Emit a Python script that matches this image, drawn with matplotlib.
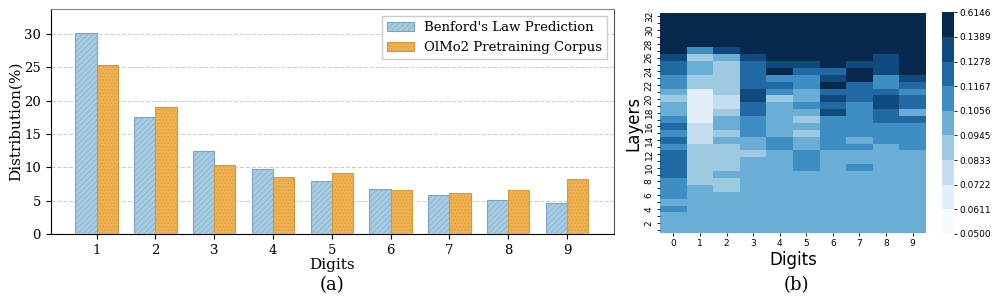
import numpy as np
import matplotlib
matplotlib.use("Agg")
import matplotlib.pyplot as plt
from matplotlib.colors import BoundaryNorm, ListedColormap

# ---- data (a): first-digit distribution ----
digits = [1, 2, 3, 4, 5, 6, 7, 8, 9]
benford = [30.1, 17.6, 12.5, 9.7, 7.9, 6.7, 5.8, 5.1, 4.6]
olmo2 = [25.4, 19.0, 10.3, 8.5, 9.2, 6.6, 6.1, 6.6, 8.2]

# ---- data (b): colour bin per layer (rows: layer 32 down to 1) x digit 0-9 ----
bounds = [0.0500, 0.0611, 0.0722, 0.0833, 0.0945, 0.1056, 0.1167, 0.1278, 0.1389, 0.6146]
heat_digits = list(range(10))
layer_bins = [
    "8888888888",  # 32
    "8888888888",  # 31
    "8888888888",  # 30
    "8888888888",  # 29
    "8888888888",  # 28
    "8578888888",  # 27
    "7347888878",  # 26
    "6436778778",  # 25
    "6436866878",  # 24
    "5336557857",  # 23
    "5336658656",  # 22
    "4137546665",  # 21
    "3127347676",  # 20
    "4126456576",  # 19
    "4136447564",  # 18
    "5145435566",  # 17
    "6245445555",  # 16
    "5235435555",  # 15
    "6244545455",  # 14
    "5334545545",  # 13
    "6333454444",  # 12
    "6334454444",  # 11
    "6334454544",  # 10
    "6344444444",  # 9
    "5334444444",  # 8
    "5434444444",  # 7
    "5444444444",  # 6
    "4444444444",  # 5
    "5444444444",  # 4
    "4444444444",  # 3
    "4444444444",  # 2
    "4444444444",  # 1
]
bin_colors = ['#f7fbff', '#e2eef8', '#c6dcef', '#9ecae1', '#6aaed6',
              '#3e8ec4', '#2169a3', '#0e4a7c', '#07284d']

plt.rcParams['hatch.linewidth'] = 0.4
fig = plt.figure(figsize=(9.96, 3.01), dpi=100)

# ---------------- (a) bar chart ----------------
ax = fig.add_axes([0.0509, 0.2226, 0.5656, 0.746])
x = np.array(digits)
w = 0.36
ax.bar(x - w / 2, benford, w, color='#a7cde2', edgecolor='#7da3c6', hatch='//////',
       linewidth=0.8, label="Benford's Law Prediction", zorder=3)
ax.bar(x + w / 2, olmo2, w, color='#efb04f', edgecolor='#d49a3c', hatch='.....',
       linewidth=0.8, label='OlMo2 Pretraining Corpus', zorder=3)
ax.set_xlim(0.22, 9.8)
ax.set_ylim(0, 33.7)
ax.set_xticks(digits)
ax.set_yticks([0, 5, 10, 15, 20, 25, 30])
ax.tick_params(labelsize=9.5)
for lab in ax.get_xticklabels() + ax.get_yticklabels():
    lab.set_family('DejaVu Serif')
ax.yaxis.grid(True, linestyle='--', color='#d0d0d0', linewidth=0.8, zorder=0)
ax.set_xlabel('Digits', fontsize=11, family='DejaVu Serif', labelpad=1)
ax.set_ylabel('Distribution(%)', fontsize=11, family='DejaVu Serif', labelpad=1)
ax.spines['top'].set_color('#888888')
ax.spines['right'].set_color('#555555')
leg = ax.legend(loc='upper right', prop={'family': 'DejaVu Serif', 'size': 9.5},
                fancybox=False, framealpha=1, edgecolor='#cccccc')
fig.text(0.333, 1 - 285 / 301, '(a)', ha='center', va='center', fontsize=13,
         family='DejaVu Serif')

# ---------------- (b) heatmap ----------------
hm = np.array([[int(c) for c in row] for row in layer_bins])[::-1]  # layer 1 first
mids = [(bounds[i] + bounds[i + 1]) / 2 for i in range(len(bounds) - 1)]
values = np.array(mids)[hm]
layers = np.arange(1, 33)

cmap = ListedColormap(bin_colors)
norm = BoundaryNorm(bounds, cmap.N)
hx = fig.add_axes([0.6627, 0.2259, 0.267, 0.731])
mesh = hx.pcolormesh(np.arange(-0.5, 10), np.arange(0.5, 33), values, cmap=cmap, norm=norm)
hx.set_xlim(-0.5, 9.5)
hx.set_ylim(0.5, 32.5)
hx.set_xticks(heat_digits)
hx.set_yticks(layers)
hx.set_yticklabels([str(l) if l % 2 == 0 else '' for l in layers], rotation=90, va='center')
hx.tick_params(labelsize=6.5, length=2.5, width=0.6, pad=2)
for s in hx.spines.values():
    s.set_visible(False)
hx.set_xlabel('Digits', fontsize=12, labelpad=2)
hx.set_ylabel('Layers', fontsize=12, labelpad=1.5)

cx = fig.add_axes([0.9458, 0.2226, 0.012, 0.7365])
cb = fig.colorbar(mesh, cax=cx, ticks=bounds)
cb.ax.set_yticklabels(['%.4f' % b for b in bounds])
cb.ax.tick_params(labelsize=6.5, length=2.5, width=0.6, pad=1.5)
cb.outline.set_visible(False)
fig.text(0.80, 1 - 285 / 301, '(b)', ha='center', va='center', fontsize=13,
         family='DejaVu Serif')

fig.savefig('out.png', dpi=100)
